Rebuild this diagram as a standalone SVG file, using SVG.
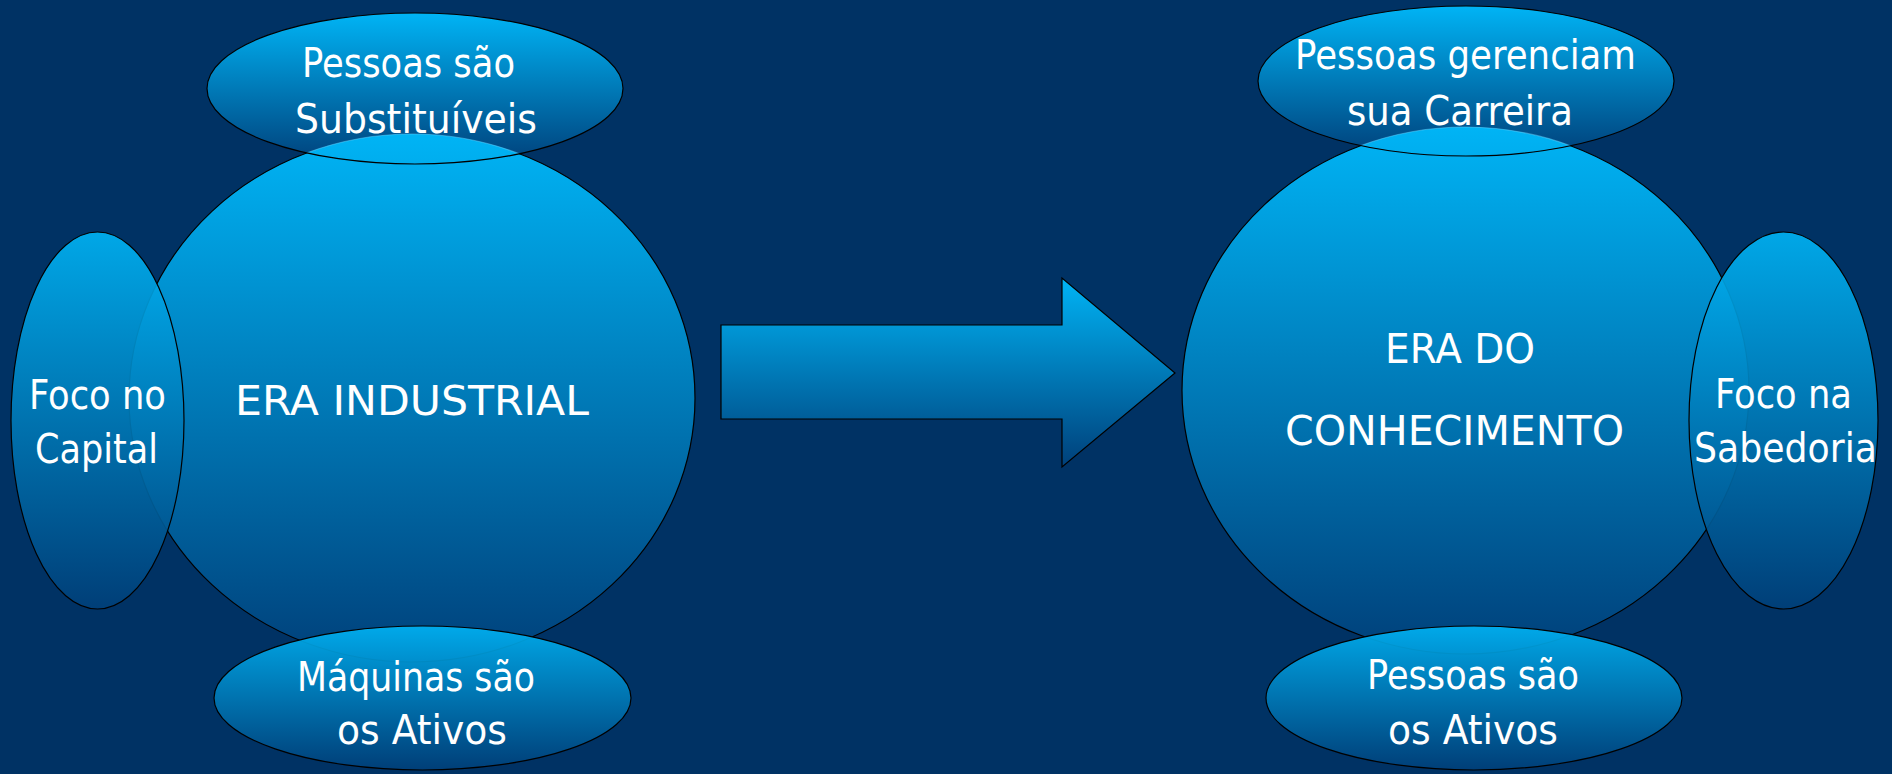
<svg xmlns="http://www.w3.org/2000/svg" width="1892" height="774" viewBox="0 0 1892 774">
<defs>
<linearGradient id="g" x1="0" y1="0" x2="0" y2="1">
<stop offset="0" stop-color="#00B4F5"/>
<stop offset="1" stop-color="#00407A"/>
</linearGradient>
<clipPath id="clipTL"><ellipse cx="415" cy="88.5" rx="208" ry="75.5"/></clipPath>
<clipPath id="clipTR"><ellipse cx="1466" cy="81" rx="208" ry="75"/></clipPath>
<style>
.shape{fill:url(#g);stroke:#000;stroke-width:1.2}
.fillonly{fill:url(#g);stroke:none}
.line{fill:none;stroke:#000;stroke-width:1.2}
.faint{fill:none;stroke:#6fd6ff;stroke-width:1.2;stroke-opacity:0.45}
.side{fill-opacity:0.9}
.lbl{font-family:"DejaVu Sans","Liberation Sans",sans-serif;font-size:40px;fill:#fff;text-anchor:middle}
</style>
</defs>
<rect width="1892" height="774" fill="#003264"/>

<g id="era-industrial">
<ellipse class="shape" cx="412" cy="398" rx="283" ry="264"/>
<text class="lbl" x="412" y="415" textLength="354" lengthAdjust="spacingAndGlyphs">ERA INDUSTRIAL</text>
</g>

<g id="pessoas-substituiveis">
<ellipse class="fillonly" cx="415" cy="88.5" rx="208" ry="75.5"/>
<ellipse class="fillonly" cx="412" cy="398" rx="283" ry="264" clip-path="url(#clipTL)"/>
<ellipse class="faint" cx="412" cy="398" rx="283" ry="264" clip-path="url(#clipTL)"/>
<ellipse class="line" cx="415" cy="88.5" rx="208" ry="75.5"/>
<text class="lbl" x="408.5" y="77" textLength="213" lengthAdjust="spacingAndGlyphs">Pessoas são</text>
<text class="lbl" x="416" y="133" textLength="242" lengthAdjust="spacingAndGlyphs">Substituíveis</text>
</g>

<g id="foco-capital">
<ellipse class="shape side" cx="97.5" cy="420.5" rx="86.5" ry="188.5"/>
<text class="lbl" x="97.5" y="409" textLength="137" lengthAdjust="spacingAndGlyphs">Foco no</text>
<text class="lbl" x="96.5" y="463" textLength="123" lengthAdjust="spacingAndGlyphs">Capital</text>
</g>

<g id="maquinas-ativos">
<ellipse class="shape side" cx="422.5" cy="698" rx="208.5" ry="72"/>
<text class="lbl" x="416" y="691" textLength="238" lengthAdjust="spacingAndGlyphs">Máquinas são</text>
<text class="lbl" x="422" y="744" textLength="170" lengthAdjust="spacingAndGlyphs">os Ativos</text>
</g>

<g id="connectors">
<polygon class="shape" points="721,325 1062,325 1062,278 1175,373 1062,467 1062,419 721,419"/>
</g>

<g id="era-conhecimento">
<ellipse class="shape" cx="1465.5" cy="390.5" rx="283.5" ry="263.5"/>
<text class="lbl" x="1460" y="363" textLength="150" lengthAdjust="spacingAndGlyphs">ERA DO</text>
<text class="lbl" x="1454.5" y="445" textLength="339" lengthAdjust="spacingAndGlyphs">CONHECIMENTO</text>
</g>

<g id="pessoas-carreira">
<ellipse class="fillonly" cx="1466" cy="81" rx="208" ry="75"/>
<ellipse class="fillonly" cx="1465.5" cy="390.5" rx="283.5" ry="263.5" clip-path="url(#clipTR)"/>
<ellipse class="faint" cx="1465.5" cy="390.5" rx="283.5" ry="263.5" clip-path="url(#clipTR)"/>
<ellipse class="line" cx="1466" cy="81" rx="208" ry="75"/>
<text class="lbl" x="1465.5" y="69" textLength="341" lengthAdjust="spacingAndGlyphs">Pessoas gerenciam</text>
<text class="lbl" x="1460" y="125" textLength="226" lengthAdjust="spacingAndGlyphs">sua Carreira</text>
</g>

<g id="foco-sabedoria">
<ellipse class="shape side" cx="1783.5" cy="420.5" rx="94.5" ry="188.5"/>
<text class="lbl" x="1783.5" y="408" textLength="137" lengthAdjust="spacingAndGlyphs">Foco na</text>
<text class="lbl" x="1785.5" y="462" textLength="183" lengthAdjust="spacingAndGlyphs">Sabedoria</text>
</g>

<g id="pessoas-ativos">
<ellipse class="shape side" cx="1474" cy="698" rx="208" ry="72"/>
<text class="lbl" x="1473" y="689" textLength="212" lengthAdjust="spacingAndGlyphs">Pessoas são</text>
<text class="lbl" x="1473" y="744" textLength="170" lengthAdjust="spacingAndGlyphs">os Ativos</text>
</g>
</svg>
